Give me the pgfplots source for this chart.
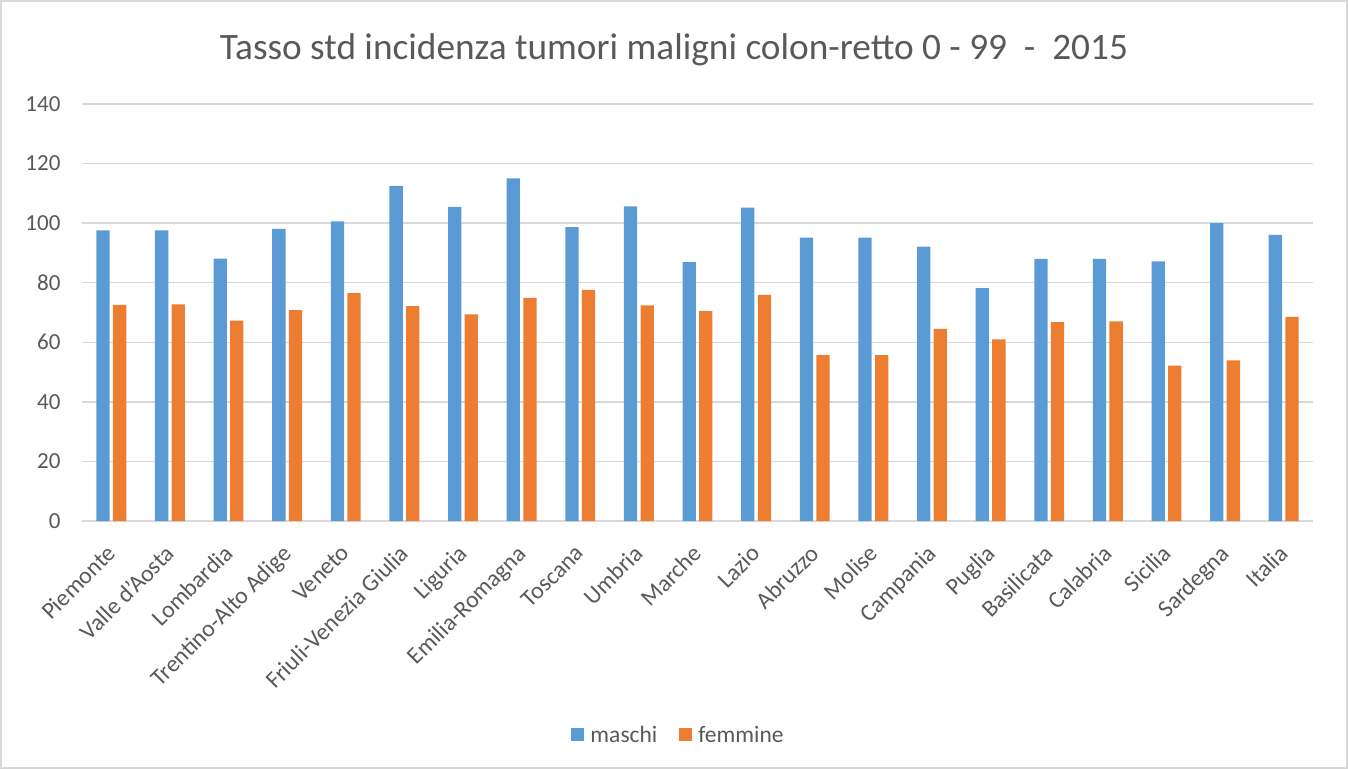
\documentclass[border=0pt]{standalone}
\usepackage{pgfplots}
\pgfplotsset{compat=1.18}
\usepackage{fontspec}
\setmainfont{Carlito}
\definecolor{mblue}{HTML}{5B9BD5}
\definecolor{morange}{HTML}{ED7D31}
\definecolor{gridc}{HTML}{D9D9D9}
\definecolor{txt}{HTML}{595959}
\begin{document}
\begin{tikzpicture}[x=1pt,y=1pt]
\draw[gridc, line width=1.5pt] (1,1) rectangle (1347,768);
\path[use as bounding box] (0,0) rectangle (1348,769);
\node[anchor=base, font=\fontsize{37.3}{44}\selectfont, text=txt] at (674,709) {Tasso std incidenza tumori maligni colon-retto 0 - 99\ \ -\ \ 2015};
\begin{axis}[
  at={(82pt,248pt)}, anchor=south west, scale only axis,
  width=1231pt, height=417pt,
  ybar=3.3pt, bar width=13.3pt,
  xmin=-0.5, xmax=20.5, ymin=0, ymax=140,
  ytick={0,20,...,140},
  xtick={0,...,20},
  xticklabels={Piemonte,Valle d'Aosta,Lombardia,Trentino-Alto Adige,Veneto,Friuli-Venezia Giulia,Liguria,Emilia-Romagna,Toscana,Umbria,Marche,Lazio,Abruzzo,Molise,Campania,Puglia,Basilicata,Calabria,Sicilia,Sardegna,Italia},
  axis line style={draw=none},
  ymajorgrids, grid style={gridc, line width=1.5pt},
  major tick length=0pt,
  tick label style={font=\fontsize{23}{28}\selectfont, text=txt},
  /pgf/number format/assume math mode=true,
  yticklabel style={anchor=east, xshift=-18pt},
  xticklabel style={rotate=45, anchor=north east, xshift=-16.6pt, yshift=-8.1pt, font=\fontsize{23.8}{28}\selectfont},
  legend style={at={(0.4846,-0.513)}, anchor=center, draw=none, legend columns=2,
     font=\fontsize{23.5}{28}\selectfont, text=txt,
     /tikz/every odd column/.append style={column sep=4pt},
     /tikz/every even column/.append style={column sep=20pt}},
  legend image code/.code={\fill[#1] (0pt,-6.5pt) rectangle (13pt,6.5pt);},
]
\addplot[fill=mblue, draw=none] coordinates {
(0,97.6) (1,97.6) (2,88.1) (3,98.1) (4,100.6) (5,112.5) (6,105.5) (7,115.0) (8,98.7) (9,105.6) (10,86.9) (11,105.2) (12,95.1) (13,95.1) (14,92.1) (15,78.2) (16,88.0) (17,88.0) (18,87.2) (19,100.0) (20,96.1)};
\addplot[fill=morange, draw=none] coordinates {
(0,72.6) (1,72.7) (2,67.3) (3,70.8) (4,76.5) (5,72.1) (6,69.4) (7,74.9) (8,77.6) (9,72.4) (10,70.5) (11,75.9) (12,55.7) (13,55.7) (14,64.5) (15,61.0) (16,66.8) (17,67.0) (18,52.2) (19,53.9) (20,68.5)};
\legend{maschi,femmine}
\end{axis}
\end{tikzpicture}
\end{document}
